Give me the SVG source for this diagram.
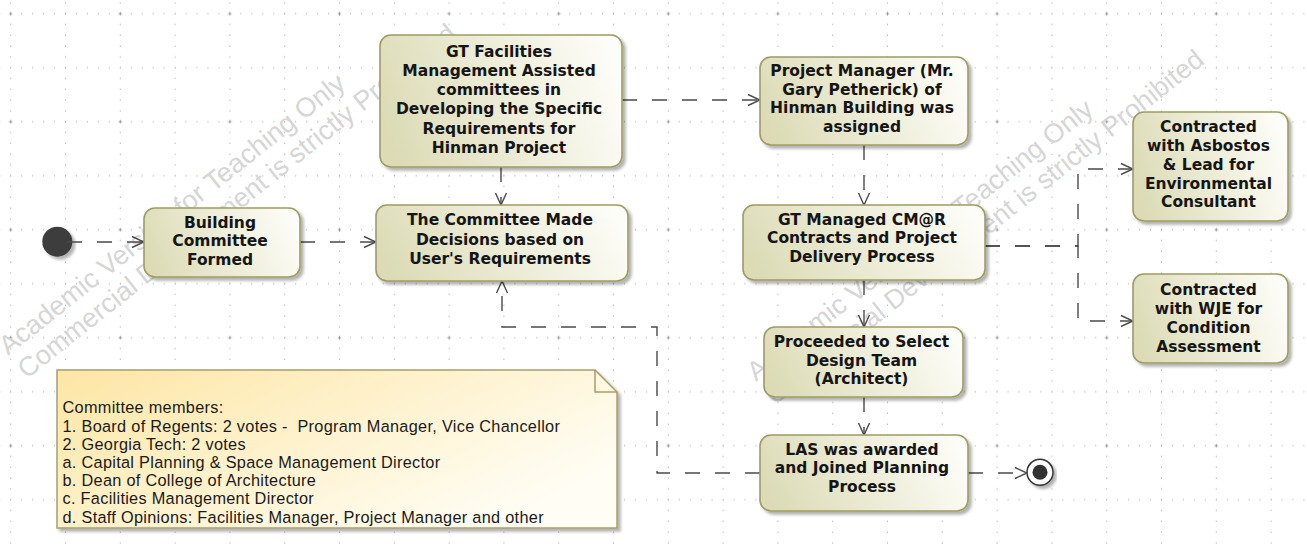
<svg xmlns="http://www.w3.org/2000/svg" width="1307" height="550" viewBox="0 0 1307 550">
<style>
.node rect{fill:url(#ng);stroke:#9d9c62;stroke-width:1.6;filter:url(#sh)}
.t{font-family:"DejaVu Sans",Verdana,sans-serif;font-weight:bold;font-size:15.5px;fill:#151515;text-anchor:middle}
.nt{font-family:"Liberation Sans",Arial,sans-serif;font-size:16.3px;letter-spacing:0.3px;fill:#1a1a1a;white-space:pre}
.wm{font-family:"Liberation Sans",Arial,sans-serif;font-size:27px;fill:#d6d6d6}
.c path{fill:none;stroke:#4a4a4a;stroke-width:1.4;stroke-dasharray:15 15;marker-end:url(#ar)}
</style>
<defs>
<pattern id="grid" patternUnits="userSpaceOnUse" x="-16.7" y="-13.3" width="109.6" height="108">
<path d="M27.4 0V108M82.2 0V108" stroke="#a0a0a0" stroke-width="1" stroke-dasharray="1 9.8" stroke-dashoffset="5.9" fill="none"/>
<path d="M0 27H109.6M0 81H109.6" stroke="#a0a0a0" stroke-width="1" stroke-dasharray="1 9.96" stroke-dashoffset="5.98" fill="none"/>
<path d="M25.6 27H29.2M27.4 25.2V28.8" stroke="#999" stroke-width="1" fill="none"/>
</pattern>
<linearGradient id="ng" x1="0" y1="0.6" x2="1" y2="0.4">
<stop offset="0" stop-color="#dcdbb6"/>
<stop offset="1" stop-color="#fdfdf8"/>
</linearGradient>
<linearGradient id="notg" x1="0" y1="0" x2="1" y2="0.6">
<stop offset="0" stop-color="#fde6a4"/>
<stop offset="1" stop-color="#fffdf4"/>
</linearGradient>
<filter id="sh" x="-10%" y="-10%" width="125%" height="130%">
<feDropShadow dx="3" dy="3" stdDeviation="1.4" flood-color="#000" flood-opacity="0.3"/>
</filter>
<marker id="ar" markerUnits="userSpaceOnUse" markerWidth="14" markerHeight="14" viewBox="0 0 14 14" refX="13" refY="7" orient="auto">
<path d="M1 1.5L13 7L1 12.5" fill="none" stroke="#4a4a4a" stroke-width="1.4" stroke-dasharray="none"/>
</marker>
</defs>
<rect width="1307" height="550" fill="#fff"/>
<rect width="1307" height="550" fill="url(#grid)"/>
<g id="watermark">
<g transform="translate(8,356) rotate(-38.5)">
<text class="wm" x="0" y="0">Academic Version for Teaching Only</text>
<text class="wm" x="0" y="30">Commercial Development is strictly Prohibited</text>
</g>
<g transform="translate(756,382) rotate(-38.5)">
<text class="wm" x="0" y="0">Academic Version for Teaching Only</text>
<text class="wm" x="0" y="30">Commercial Development is strictly Prohibited</text>
</g>
</g>
<g id="initial"><circle cx="57.3" cy="241.7" r="15" fill="#3d3d3d" filter="url(#sh)"/></g>
<g id="final" filter="url(#sh)"><circle cx="1040" cy="472.3" r="13" fill="#fff" stroke="#333" stroke-width="1.5"/><circle cx="1040" cy="472.3" r="7.5" fill="#333"/></g>
<g class="c" id="connectors">
<path d="M67 242H144"/>
<path d="M300 242H376"/>
<path d="M501 167V205"/>
<path d="M622 100H760"/>
<path d="M864 145V205"/>
<path d="M864 280V327"/>
<path d="M864 397V435"/>
<path d="M985 246H1078V169H1133"/>
<path d="M985 246H1078V321H1133"/>
<path d="M760 473H657V327H502V281"/>
<path d="M968 473H1027"/>
</g>
<g class="node" id="n-building"><rect x="144" y="208" width="156" height="69" rx="11"/>
<text class="t"><tspan x="220" y="227.5">Building</tspan><tspan x="220" y="246">Committee</tspan><tspan x="220" y="264.5">Formed</tspan></text></g>
<g class="node" id="n-facilities"><rect x="380" y="35" width="242" height="132" rx="11"/>
<text class="t"><tspan x="499" y="56.5">GT Facilities</tspan><tspan x="499" y="75.8">Management Assisted</tspan><tspan x="499" y="95.1">committees in</tspan><tspan x="499" y="114.4">Developing the Specific</tspan><tspan x="499" y="133.7">Requirements for</tspan><tspan x="499" y="153">Hinman Project</tspan></text></g>
<g class="node" id="n-decisions"><rect x="376" y="205" width="252" height="76" rx="11"/>
<text class="t"><tspan x="500" y="224.8">The Committee Made</tspan><tspan x="500" y="244.5">Decisions based on</tspan><tspan x="500" y="264.2">User's Requirements</tspan></text></g>
<g class="node" id="n-pm"><rect x="760" y="57" width="208" height="88" rx="11"/>
<text class="t"><tspan x="862" y="76">Project Manager (Mr.</tspan><tspan x="862" y="94.8">Gary Petherick) of</tspan><tspan x="862" y="113.4">Hinman Building was</tspan><tspan x="862" y="132.2">assigned</tspan></text></g>
<g class="node" id="n-cmar"><rect x="743" y="205" width="242" height="75" rx="11"/>
<text class="t"><tspan x="862" y="224.8">GT Managed CM@R</tspan><tspan x="862" y="243.2">Contracts and Project</tspan><tspan x="862" y="261.6">Delivery Process</tspan></text></g>
<g class="node" id="n-asb"><rect x="1133" y="112" width="155" height="109" rx="11"/>
<text class="t"><tspan x="1208.5" y="132.2">Contracted</tspan><tspan x="1208.5" y="151">with Asbostos</tspan><tspan x="1208.5" y="169.8">&amp; Lead for</tspan><tspan x="1208.5" y="188.6">Environmental</tspan><tspan x="1208.5" y="207.4">Consultant</tspan></text></g>
<g class="node" id="n-wje"><rect x="1133" y="274" width="155" height="89" rx="11"/>
<text class="t"><tspan x="1208.5" y="294.5">Contracted</tspan><tspan x="1208.5" y="313.8">with WJE for</tspan><tspan x="1208.5" y="333.1">Condition</tspan><tspan x="1208.5" y="352.4">Assessment</tspan></text></g>
<g class="node" id="n-design"><rect x="764" y="327" width="199" height="70" rx="11"/>
<text class="t"><tspan x="861.5" y="347.2">Proceeded to Select</tspan><tspan x="861.5" y="365.7">Design Team</tspan><tspan x="861.5" y="384.3">(Architect)</tspan></text></g>
<g class="node" id="n-las"><rect x="760" y="435" width="208" height="76" rx="11"/>
<text class="t"><tspan x="862" y="454.5">LAS was awarded</tspan><tspan x="862" y="473.1">and Joined Planning</tspan><tspan x="862" y="491.6">Process</tspan></text></g>
<g id="note">
<path d="M57 370H595L617 392V528H57Z" fill="url(#notg)" stroke="#a89d6b" stroke-width="1.5" filter="url(#sh)"/>
<path d="M595 370V392H617" fill="none" stroke="#a89d6b" stroke-width="1.5"/>
<text class="nt" xml:space="preserve"><tspan x="62.5" y="413.3">Committee members:</tspan><tspan x="62.5" y="431.5">1. Board of Regents: 2 votes -  Program Manager, Vice Chancellor</tspan><tspan x="62.5" y="449.7">2. Georgia Tech: 2 votes</tspan><tspan x="62.5" y="467.9">a. Capital Planning &amp; Space Management Director</tspan><tspan x="62.5" y="486.1">b. Dean of College of Architecture</tspan><tspan x="62.5" y="504.3">c. Facilities Management Director</tspan><tspan x="62.5" y="522.5">d. Staff Opinions: Facilities Manager, Project Manager and other</tspan></text>
</g>
</svg>
